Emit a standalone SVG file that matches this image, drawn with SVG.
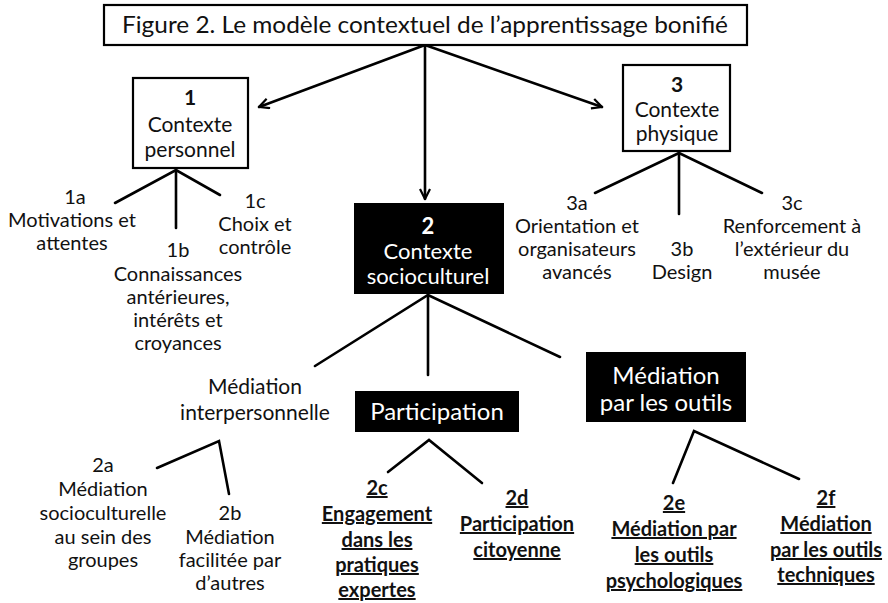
<svg xmlns="http://www.w3.org/2000/svg" width="888" height="603" viewBox="0 0 888 603">
<defs>
<marker id="arr" viewBox="0 0 12 12" refX="11" refY="6" markerWidth="12" markerHeight="12" markerUnits="userSpaceOnUse" orient="auto">
<path d="M1,1 L11,6 L1,11" fill="none" stroke="#000" stroke-width="2.2"/>
</marker>
<style>
text{font-family:Lato,"Open Sans","Liberation Sans",sans-serif;font-size:20px;fill:#111;text-anchor:middle}
.b{font-weight:bold}
.u{font-weight:bold;text-decoration:underline}
.w{fill:#fff;font-size:22px}
.bx{font-size:21px}
.t{font-size:23px}
.box{fill:#fff;stroke:#000;stroke-width:2.2}
.blk{fill:#000}
.ln{stroke:#000;stroke-width:2.6;fill:none;stroke-linecap:round}
</style>
</defs>
<rect width="888" height="603" fill="#fff"/>
<g id="connectors">
<line class="ln" x1="425" y1="45" x2="259" y2="107" marker-end="url(#arr)"/>
<line class="ln" x1="425" y1="45" x2="425" y2="199" marker-end="url(#arr)"/>
<line class="ln" x1="425" y1="45" x2="602" y2="107" marker-end="url(#arr)"/>
<polyline class="ln" points="115,203 176,170 220,195"/>
<line class="ln" x1="176" y1="170" x2="176" y2="228"/>
<polyline class="ln" points="595,193 679,153 762,193"/>
<line class="ln" x1="679" y1="153" x2="679" y2="214"/>
<polyline class="ln" points="315,366 428,295 560,357"/>
<line class="ln" x1="428" y1="295" x2="428" y2="375"/>
<polyline class="ln" points="157,468 219,441 229,494"/>
<polyline class="ln" points="388,472 429,440 482,483"/>
<polyline class="ln" points="673,483 694,431 799,479"/>
</g>
<g id="title">
<rect class="box" x="104" y="5" width="643" height="40"/>
<text class="t" x="425" y="33" textLength="606" lengthAdjust="spacingAndGlyphs">Figure 2. Le modèle contextuel de l’apprentissage bonifié</text>
</g>
<g id="n1">
<rect class="box" x="133" y="78" width="115" height="90"/>
<text class="b bx" x="190" y="105">1</text>
<text class="bx" x="190" y="132">Contexte</text>
<text class="bx" x="190" y="157">personnel</text>
</g>
<g id="n1a">
<text x="75" y="204">1a</text>
<text x="72" y="227">Motivations et</text>
<text x="72" y="250">attentes</text>
</g>
<g id="n1b">
<text x="178" y="257">1b</text>
<text x="178" y="281">Connaissances</text>
<text x="178" y="304">antérieures,</text>
<text x="178" y="327">intérêts et</text>
<text x="178" y="350">croyances</text>
</g>
<g id="n1c">
<text x="255" y="208">1c</text>
<text x="255" y="231">Choix et</text>
<text x="255" y="254">contrôle</text>
</g>
<g id="n2">
<rect class="blk" x="354" y="203" width="150" height="91"/>
<text class="b w" x="428" y="234">2</text>
<text class="w" x="428" y="259">Contexte</text>
<text class="w" x="428" y="284">socioculturel</text>
</g>
<g id="n3">
<rect class="box" x="623" y="65" width="107" height="86"/>
<text class="b bx" x="677" y="92">3</text>
<text class="bx" x="677" y="117">Contexte</text>
<text class="bx" x="677" y="141">physique</text>
</g>
<g id="n3a">
<text x="577" y="210">3a</text>
<text x="577" y="233">Orientation et</text>
<text x="577" y="256">organisateurs</text>
<text x="577" y="279">avancés</text>
</g>
<g id="n3b">
<text x="682" y="256">3b</text>
<text x="682" y="279">Design</text>
</g>
<g id="n3c">
<text x="792" y="210">3c</text>
<text x="792" y="233">Renforcement à</text>
<text x="792" y="256">l’extérieur du</text>
<text x="792" y="279">musée</text>
</g>
<g id="nMI">
<text class="bx" x="255" y="394">Médiation</text>
<text class="bx" x="255" y="420">interpersonnelle</text>
</g>
<g id="nP">
<rect class="blk" x="355" y="391" width="164" height="41"/>
<text class="w" x="437" y="420" style="font-size:24px">Participation</text>
</g>
<g id="nMO">
<rect class="blk" x="586" y="352" width="160" height="70"/>
<text class="w" x="666" y="384" style="font-size:24px">Médiation</text>
<text class="w" x="666" y="411" style="font-size:24px">par les outils</text>
</g>
<g id="n2a">
<text x="103" y="472">2a</text>
<text x="103" y="496">Médiation</text>
<text x="103" y="520">socioculturelle</text>
<text x="103" y="544">au sein des</text>
<text x="103" y="567">groupes</text>
</g>
<g id="n2b">
<text x="230" y="520">2b</text>
<text x="230" y="544">Médiation</text>
<text x="230" y="567">facilitée par</text>
<text x="230" y="590">d’autres</text>
</g>
<g id="n2c">
<text class="u" x="377" y="495">2c</text>
<text class="u" x="377" y="521">Engagement</text>
<text class="u" x="377" y="547">dans les</text>
<text class="u" x="377" y="572">pratiques</text>
<text class="u" x="377" y="597">expertes</text>
</g>
<g id="n2d">
<text class="u" x="517" y="505">2d</text>
<text class="u" x="517" y="531">Participation</text>
<text class="u" x="517" y="557">citoyenne</text>
</g>
<g id="n2e">
<text class="u" x="674" y="510">2e</text>
<text class="u" x="674" y="536">Médiation par</text>
<text class="u" x="674" y="562">les outils</text>
<text class="u" x="674" y="588">psychologiques</text>
</g>
<g id="n2f">
<text class="u" x="826" y="505">2f</text>
<text class="u" x="826" y="531">Médiation</text>
<text class="u" x="826" y="557">par les outils</text>
<text class="u" x="826" y="582">techniques</text>
</g>
</svg>
